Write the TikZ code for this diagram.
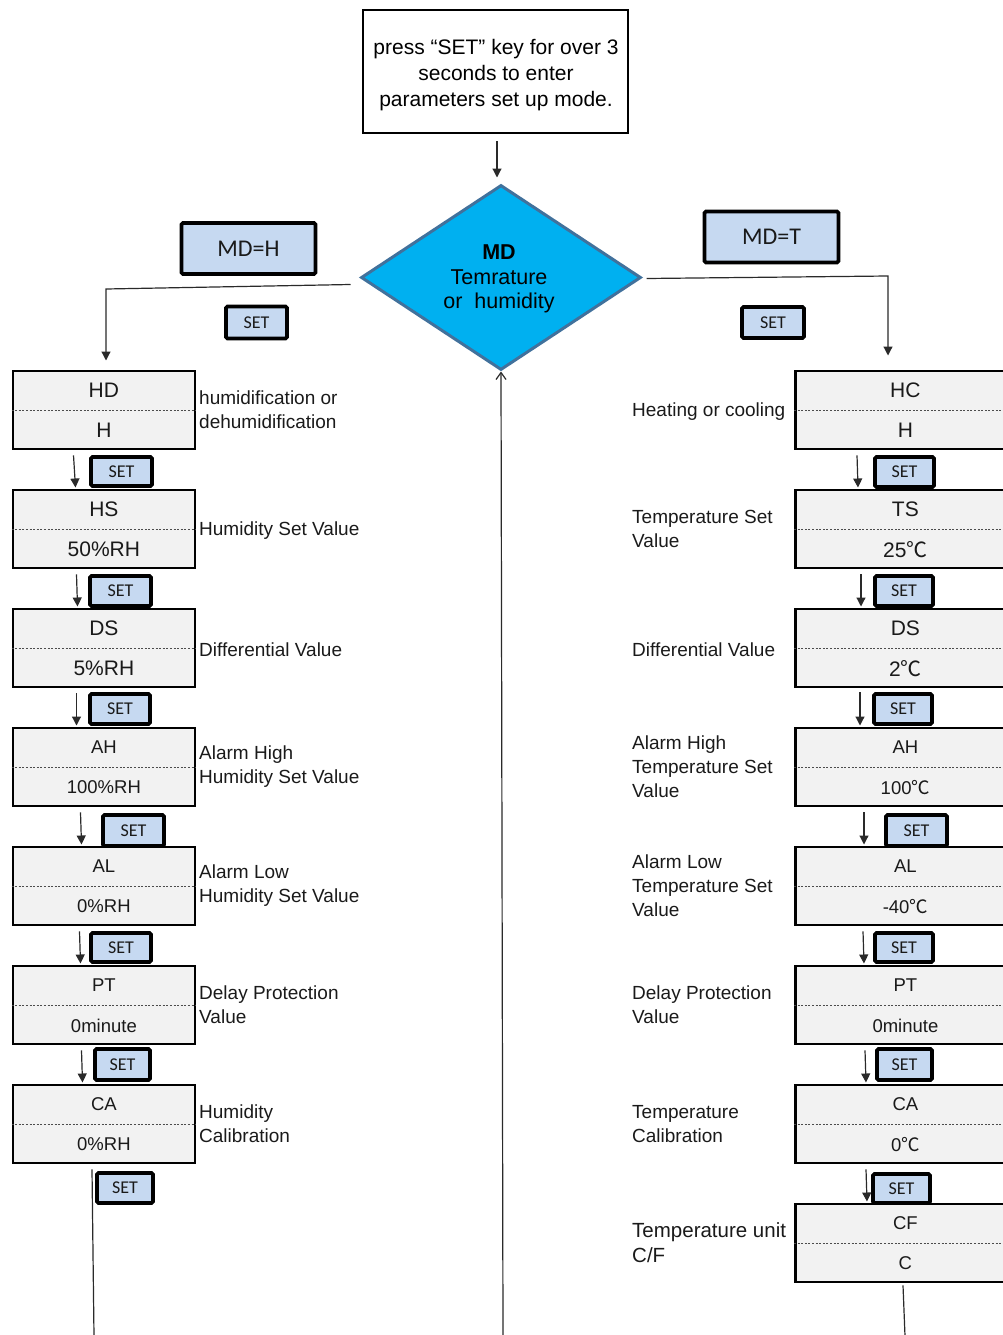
\documentclass[tikz,border=0pt]{standalone}
\usepackage{fontspec}
\setmainfont{Liberation Sans}
\newfontfamily\calib{Carlito}
\newfontfamily\cjkf{Noto Sans CJK SC}
\usetikzlibrary{shapes.geometric,arrows.meta,calc}

\definecolor{boxgray}{HTML}{F2F2F2}
\definecolor{btnblue}{HTML}{C6D9F1}
\definecolor{mdcyan}{HTML}{00B0F0}
\definecolor{mdedge}{HTML}{41719C}
\definecolor{lnk}{HTML}{2A2A2A}
\definecolor{txt}{HTML}{1A1A1A}

\newcommand{\dg}{{\cjkf ℃}}

\tikzset{
  pbox/.style={draw=black, line width=2.8pt, fill=boxgray, minimum height=78pt, inner sep=0pt, anchor=north west},
  lbox/.style={pbox, minimum width=182pt},
  rbox/.style={pbox, minimum width=220pt},
  divider/.style={draw=black!70, dash pattern=on 2pt off 1.6pt, line width=1pt},
  btn/.style={draw=black, line width=3.6pt, fill=btnblue, rounded corners=1.5pt, inner sep=0pt, text=txt},
  setb/.style={btn, minimum width=59pt, minimum height=29pt, font=\calib\fontsize{18}{18}\selectfont},
  mdb/.style={btn, minimum width=134pt, minimum height=51pt, font=\calib\fontsize{24}{24}\selectfont},
  arr/.style={-{Triangle[length=9pt,width=9pt]}, line width=1.2pt, draw=lnk},
  plain/.style={line width=1.2pt, draw=lnk},
  lbl/.style={anchor=west, inner sep=0pt, align=left, text=txt, font=\fontsize{19}{24}\selectfont},
  val/.style={inner sep=0pt, text=txt, font=\fontsize{21}{21}\selectfont},
  vals/.style={inner sep=0pt, text=txt, font=\fontsize{18.5}{18.5}\selectfont},
}

% #1 name, #2 style, #3 x, #4 y, #5 top text, #6 bottom text, #7 text style
\newcommand{\pbx}[7]{%
  \node[#2] (#1) at (#3,#4) {};
  \draw[divider] ($(#1.north west)+(0,41)$) -- ($(#1.north east)+(0,41)$);
  \node[#7] (#1-a) at ($(#1.north)+(0,21)$) {#5};
  \node[#7] (#1-b) at ($(#1.north)+(0,61)$) {#6};
}

\begin{document}
\begin{tikzpicture}[x=1pt,y=-1pt]
\useasboundingbox (0,0) rectangle (1003,1335);
\clip (0,0) rectangle (1003,1335);

% start box
\node[draw=black, line width=2pt, fill=white, minimum width=265pt, minimum height=123pt,
      inner sep=0pt, text=black] (start) at (495.5,71.5) {};
\node[inner sep=0pt, align=center, text=black, font=\fontsize{21}{26}\selectfont]
  (startt) at (496,75) {press “SET” key for over 3\\seconds to enter\\parameters set up mode.};

% diamond
\node[diamond, draw=mdedge, line width=3pt, fill=mdcyan, minimum width=280pt,
      minimum height=185pt, inner sep=0pt] (md) at (501,277.5) {};
\node[inner sep=0pt, align=center, text=black, font=\fontsize{21.5}{24.5}\selectfont]
  (mdt) at (499,279) {\textbf{MD}\\Temrature\\or\ \ humidity};

% MD buttons
\node[mdb] (mdh) at (248.5,248.5) {MD=H};
\node[mdb] (mdtb) at (771.5,237) {MD=T};
\node[setb, minimum width=61pt, minimum height=32pt] (s0l) at (256.5,322.5) {SET};
\node[setb, minimum width=62pt, minimum height=31pt] (s0r) at (773,322.5) {SET};

% left column
\pbx{hd}{lbox}{11.5}{369.5}{HD}{H}{val}
\pbx{hs}{lbox}{11.5}{488.5}{HS}{50\%RH}{val}
\pbx{ds}{lbox}{11.5}{607.5}{DS}{5\%RH}{val}
\pbx{ah}{lbox}{11.5}{726.5}{AH}{100\%RH}{vals}
\pbx{al}{lbox}{11.5}{845.5}{AL}{0\%RH}{vals}
\pbx{pt}{lbox}{11.5}{964.5}{PT}{0minute}{vals}
\pbx{ca}{lbox}{11.5}{1083.5}{CA}{0\%RH}{vals}

% right column
\pbx{hc}{rbox}{794}{369.5}{HC}{H}{val}
\pbx{ts}{rbox}{794}{488.5}{TS}{25\dg}{val}
\pbx{rds}{rbox}{794}{607.5}{DS}{2\dg}{val}
\pbx{rah}{rbox}{794}{726.5}{AH}{100\dg}{vals}
\pbx{ral}{rbox}{794}{845.5}{AL}{-40\dg}{vals}
\pbx{rpt}{rbox}{794}{964.5}{PT}{0minute}{vals}
\pbx{rca}{rbox}{794}{1083.5}{CA}{0\dg}{vals}
\pbx{cf}{rbox}{794}{1202.5}{CF}{C}{vals}

% left SET buttons
\node[setb, minimum width=61pt] (sl1) at (121.5,471.5) {SET};
\node[setb, minimum width=61pt, minimum height=30pt] (sl2) at (120.5,591) {SET};
\node[setb, minimum width=60pt, minimum height=30pt] (sl3) at (120,709) {SET};
\node[setb, minimum width=61pt, minimum height=31pt] (sl4) at (133.5,830.5) {SET};
\node[setb, minimum width=60pt] (sl5) at (121,947.5) {SET};
\node[setb, minimum width=55pt, minimum height=31pt] (sl6) at (122.5,1064.5) {SET};
\node[setb, minimum width=56pt, minimum height=30pt] (sl7) at (125,1188) {SET};

% right SET buttons
\node[setb, minimum width=59pt, minimum height=30pt] (sr1) at (904.5,472) {SET};
\node[setb, minimum width=58pt, minimum height=30pt] (sr2) at (904,591) {SET};
\node[setb, minimum width=58pt, minimum height=30pt] (sr3) at (903,709) {SET};
\node[setb, minimum width=61pt, minimum height=31pt] (sr4) at (916.5,830.5) {SET};
\node[setb, minimum width=58pt] (sr5) at (904,947.5) {SET};
\node[setb, minimum width=55pt, minimum height=31pt] (sr6) at (904.5,1064.5) {SET};
\node[setb, minimum width=57pt, minimum height=29pt] (sr7) at (901.5,1188.5) {SET};

% left labels
\node[lbl] (lhd) at (199,410) {humidification or\\dehumidification};
\node[lbl] (lhs) at (199,530.5) {Humidity Set Value};
\node[lbl] (lds) at (199,649.5) {Differential Value};
\node[lbl] (lah) at (199,767) {Alarm High\\Humidity Set Value};
\node[lbl] (lal) at (199,886) {Alarm Low\\Humidity Set Value};
\node[lbl] (lpt) at (199,1005) {Delay Protection\\Value};
\node[lbl] (lca) at (199,1124) {Humidity\\Calibration};

% right labels
\node[lbl] (rhc) at (632,411.5) {Heating or cooling};
\node[lbl] (rts) at (632,529) {Temperature Set\\Value};
\node[lbl] (rdsl) at (632,649.5) {Differential Value};
\node[lbl] (rahl) at (632,767) {Alarm High\\Temperature Set\\Value};
\node[lbl] (rall) at (632,886) {Alarm Low\\Temperature Set\\Value};
\node[lbl] (rptl) at (632,1005) {Delay Protection\\Value};
\node[lbl] (rcal) at (632,1124) {Temperature\\Calibration};
\node[lbl, font=\fontsize{20.5}{25}\selectfont] (rcfl) at (632,1242.5) {Temperature unit\\C/F};

% top connectors
\draw[arr] ($(start.south)+(1.5,7)$) -- ($(md.north)+(-4,-6)$);
\coordinate (lcorner) at (106,289);
\coordinate (rcorner) at (888,276);
\draw[arr] ($(md.west)+(-9,7)$) -- (lcorner) -- ($(hd.north west)+(94.5,-9)$);
\draw[arr] ($(md.east)+(4,1)$) -- (rcorner) -- ($(hc.north west)+(94,-14)$);

% left column arrows
\draw[arr] ($(hd.south west)+(62,5)$) -- ($(hs.north west)+(64,-1)$);
\draw[arr] ($(hs.south west)+(65,5)$) -- ($(ds.north west)+(66,-1)$);
\draw[arr] ($(ds.south west)+(65,5)$) -- ($(ah.north west)+(65,-1)$);
\draw[arr] ($(ah.south west)+(69,5)$) -- ($(al.north west)+(70,-1)$);
\draw[arr] ($(al.south west)+(68,5)$) -- ($(pt.north west)+(69,-1)$);
\draw[arr] ($(pt.south west)+(70,5)$) -- ($(ca.north west)+(71,-1)$);
\coordinate (lend) at (94,1336);
\draw[plain] ($(ca.south west)+(80.5,5)$) -- (lend);

% right column arrows
\draw[arr] ($(hc.south west)+(63,5)$) -- ($(ts.north west)+(64,-1)$);
\draw[arr] ($(ts.south west)+(67,5)$) -- ($(rds.north west)+(67,-1)$);
\draw[arr] ($(rds.south west)+(66,4)$) -- ($(rah.north west)+(66,-1)$);
\draw[arr] ($(rah.south west)+(70,5)$) -- ($(ral.north west)+(70,-1)$);
\draw[arr] ($(ral.south west)+(69,5)$) -- ($(rpt.north west)+(70,-1)$);
\draw[arr] ($(rpt.south west)+(71,5)$) -- ($(rca.north west)+(72,-1)$);
\draw[arr] ($(rca.south west)+(72,5)$) -- ($(cf.north west)+(73,-1)$);
\coordinate (rend) at (905,1336);
\draw[plain] ($(cf.south west)+(109,2)$) -- (rend);

% return arrow into diamond
\coordinate (ubot) at (503,1336);
\draw[line width=1.2pt, draw=lnk, -{Straight Barb[length=7pt,width=10pt]}] (ubot) -- (md.south);

\end{tikzpicture}
\end{document}
